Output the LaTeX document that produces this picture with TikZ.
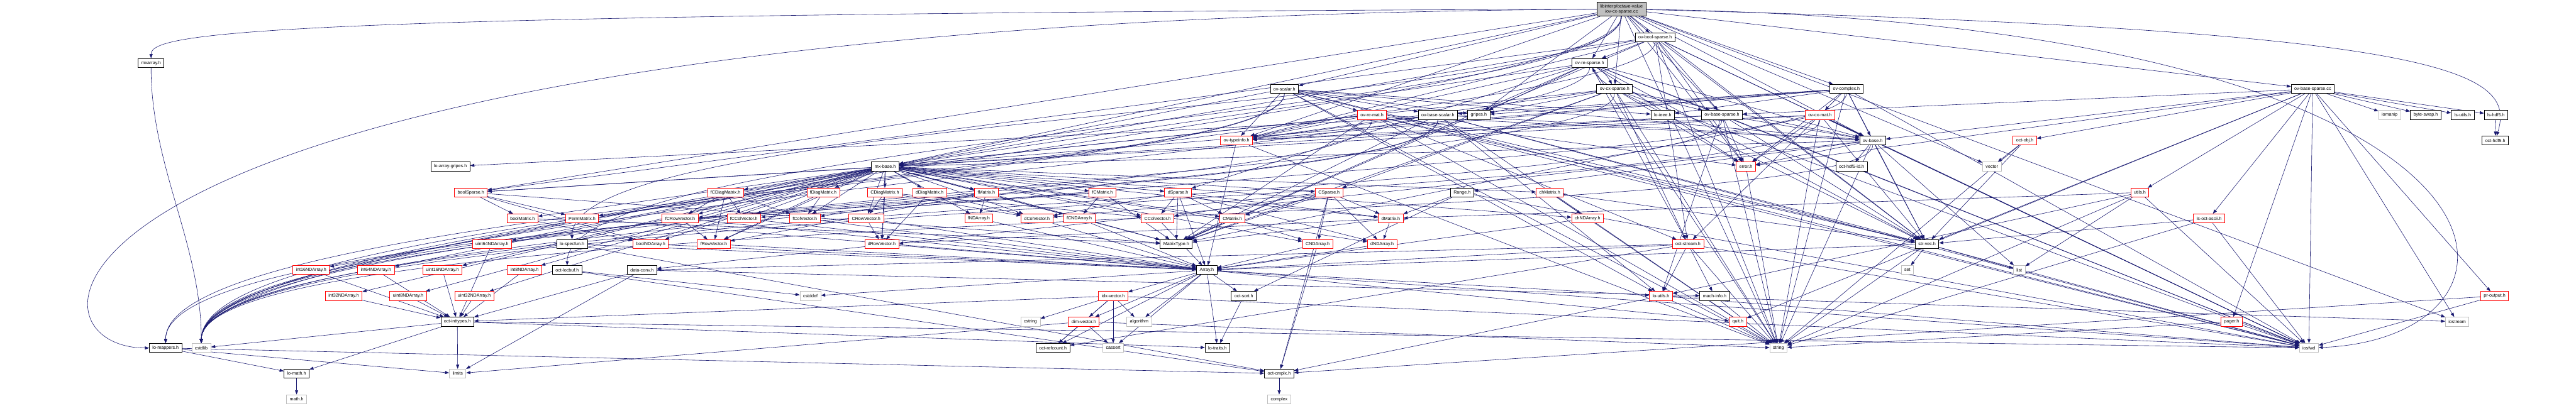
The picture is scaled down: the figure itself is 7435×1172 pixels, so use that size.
\documentclass[tikz,border=0pt]{standalone}
\usepackage{fontspec}
\setmainfont{Liberation Sans}
\usetikzlibrary{arrows.meta}
\definecolor{edgeblue}{HTML}{191970}
\definecolor{sysgray}{HTML}{BFBFBF}
\definecolor{rootfill}{HTML}{BFBFBF}
\definecolor{cutred}{HTML}{FF0000}
\pgfdeclarelayer{edges}
\pgfsetlayers{edges,main}

\begin{document}
\begin{tikzpicture}[x=1pt,y=-1pt,
    hdr/.style={draw=black,line width=1.5pt,fill=white,font=\fontsize{13}{15}\selectfont,
      inner xsep=9pt,inner ysep=0pt,minimum height=26pt},
    cut/.style={hdr,draw=cutred},
    sys/.style={hdr,draw=sysgray},
    rootbox/.style={hdr,fill=rootfill,align=center,minimum height=41pt},
    dep/.style={-{Triangle[length=12pt,width=9pt]},draw=edgeblue,line width=1.1pt}]
  \useasboundingbox (0,0) rectangle (7435,1172);

  % layer 0-3
  \node[rootbox] (root) at (4680,26) {libinterp/octave-value\\/ov-cx-sparse.cc};
  \node[hdr] (ovboolsp) at (4777,108) {ov-bool-sparse.h};
  \node[hdr] (mxarray) at (436,182) {mxarray.h};
  \node[hdr] (ovresp) at (4588,182) {ov-re-sparse.h};
  \node[hdr] (ovscalar) at (3707,257) {ov-scalar.h};
  \node[hdr] (ovcxsp) at (4660,257) {ov-cx-sparse.h};
  \node[hdr] (ovcomplex) at (5329,257) {ov-complex.h};
  \node[hdr] (ovbasespcc) at (6675,257) {ov-base-sparse.cc};

  % layer 4-5
  \node[cut] (ovremat) at (3960,332) {ov-re-mat.h};
  \node[hdr] (ovbasescalar) at (4150,332) {ov-base-scalar.h};
  \node[hdr] (gripes) at (4268,332) {gripes.h};
  \node[hdr] (loieee) at (4799,332) {lo-ieee.h};
  \node[hdr] (ovbasesp) at (4970,332) {ov-base-sparse.h};
  \node[cut] (ovcxmat) at (5253,332) {ov-cx-mat.h};
  \node[sys] (iomanip) at (6897,332) {iomanip};
  \node[hdr] (byteswap) at (7001,332) {byte-swap.h};
  \node[hdr] (lsutils) at (7108,332) {ls-utils.h};
  \node[hdr] (lshdf5) at (7204,332) {ls-hdf5.h};
  \node[cut] (ovtypeinfo) at (3569,406) {ov-typeinfo.h};
  \node[hdr] (ovbase) at (5405,406) {ov-base.h};
  \node[cut] (octobj) at (5844,406) {oct-obj.h};
  \node[hdr] (octhdf5) at (7202,406) {oct-hdf5.h};

  % layer 6-7
  \node[hdr] (loarraygripes) at (1300,481) {lo-array-gripes.h};
  \node[hdr] (mxbase) at (2555,481) {mx-base.h};
  \node[cut] (errorh) at (5039,481) {error.h};
  \node[hdr] (octhdf5id) at (5344,481) {oct-hdf5-id.h};
  \node[sys] (vector) at (5749,481) {vector};
  \node[cut] (boolsparse) at (1359,556) {boolSparse.h};
  \node[cut] (fcdiag) at (2094,556) {fCDiagMatrix.h};
  \node[cut] (fdiag) at (2376,556) {fDiagMatrix.h};
  \node[cut] (cdiag) at (2554,556) {CDiagMatrix.h};
  \node[cut] (ddiag) at (2683,556) {dDiagMatrix.h};
  \node[cut] (fmatrix) at (2847,556) {fMatrix.h};
  \node[cut] (fcmatrix) at (3182,556) {fCMatrix.h};
  \node[cut] (dsparse) at (3400,556) {dSparse.h};
  \node[cut] (csparse) at (3836,556) {CSparse.h};
  \node[hdr] (range) at (4220,556) {Range.h};
  \node[cut] (chmatrix) at (4473,556) {chMatrix.h};
  \node[cut] (utils) at (6176,556) {utils.h};

  % layer 8-9
  \node[cut] (boolmatrix) at (1508,631) {boolMatrix.h};
  \node[cut] (permmatrix) at (1680,631) {PermMatrix.h};
  \node[cut] (fcrowvec) at (1963,631) {fCRowVector.h};
  \node[cut] (fccolvec) at (2147,631) {fCColVector.h};
  \node[cut] (fcolvec) at (2323,631) {fColVector.h};
  \node[cut] (crowvec) at (2500,631) {CRowVector.h};
  \node[cut] (fndarray) at (2825,631) {fNDArray.h};
  \node[cut] (dcolvec) at (2993,631) {dColVector.h};
  \node[cut] (fcndarray) at (3115,631) {fCNDArray.h};
  \node[cut] (ccolvec) at (3341,631) {CColVector.h};
  \node[cut] (cmatrix) at (3557,631) {CMatrix.h};
  \node[cut] (dmatrix) at (4014,631) {dMatrix.h};
  \node[cut] (chndarray) at (4582,631) {chNDArray.h};
  \node[cut] (lsoctascii) at (6376,631) {ls-oct-ascii.h};
  \node[cut] (uint64nd) at (1420,705) {uint64NDArray.h};
  \node[hdr] (lospecfun) at (1651,705) {lo-specfun.h};
  \node[cut] (boolnd) at (1878,705) {boolNDArray.h};
  \node[cut] (frowvec) at (2060,705) {fRowVector.h};
  \node[cut] (drowvec) at (2545,705) {dRowVector.h};
  \node[hdr] (matrixtype) at (3395,705) {MatrixType.h};
  \node[cut] (cndarray) at (3803,705) {CNDArray.h};
  \node[cut] (dndarray) at (3989,705) {dNDArray.h};
  \node[cut] (octstream) at (4872,705) {oct-stream.h};
  \node[hdr] (strvec) at (5562,705) {str-vec.h};

  % layer 10-11
  \node[cut] (int16nd) at (898,780) {int16NDArray.h};
  \node[cut] (int64nd) at (1085,780) {int64NDArray.h};
  \node[cut] (uint16nd) at (1277,780) {uint16NDArray.h};
  \node[cut] (int8nd) at (1514,780) {int8NDArray.h};
  \node[hdr] (octlocbuf) at (1637,780) {oct-locbuf.h};
  \node[hdr] (dataconv) at (1853,780) {data-conv.h};
  \node[hdr] (array) at (3483,780) {Array.h};
  \node[sys] (set) at (5505,780) {set};
  \node[sys] (list) at (5828,780) {list};
  \node[cut] (int32nd) at (992,855) {int32NDArray.h};
  \node[cut] (uint8nd) at (1178,855) {uint8NDArray.h};
  \node[cut] (uint32nd) at (1369,855) {uint32NDArray.h};
  \node[sys] (cstddef) at (2339,855) {cstddef};
  \node[cut] (idxvector) at (3213,855) {idx-vector.h};
  \node[hdr] (octsort) at (3590,855) {oct-sort.h};
  \node[cut] (loutils) at (4794,855) {lo-utils.h};
  \node[hdr] (machinfo) at (4949,855) {mach-info.h};
  \node[cut] (proutput) at (7200,855) {pr-output.h};

  % layer 12-15
  \node[hdr] (octinttypes) at (1320,929) {oct-inttypes.h};
  \node[sys] (cstring) at (2974,929) {cstring};
  \node[cut] (dimvector) at (3128,929) {dim-vector.h};
  \node[sys] (algorithm) at (3288,929) {algorithm};
  \node[cut] (quit) at (5016,929) {quit.h};
  \node[cut] (pager) at (6441,929) {pager.h};
  \node[sys] (iostream) at (7092,929) {iostream};
  \node[hdr] (lomappers) at (478,1005) {lo-mappers.h};
  \node[sys] (cstdlib) at (581,1005) {cstdlib};
  \node[hdr] (octrefcount) at (3039,1005) {oct-refcount.h};
  \node[sys] (cassert) at (3213,1005) {cassert};
  \node[hdr] (lotraits) at (3514,1005) {lo-traits.h};
  \node[sys] (string) at (5133,1005) {string};
  \node[sys] (iosfwd) at (6664,1005) {iosfwd};
  \node[hdr] (lomath) at (856,1079) {lo-math.h};
  \node[sys] (limits) at (1321,1079) {limits};
  \node[hdr] (octcmplx) at (3692,1079) {oct-cmplx.h};
  \node[sys] (mathh) at (856,1153) {math.h};
  \node[sys] (complex) at (3692,1153) {complex};

  \begin{pgfonlayer}{edges}
  % root file
  \foreach \tgt in {ovboolsp,ovresp,ovcxsp,ovbasesp,ovbasespcc,ovscalar,ovcomplex,ovbase,gripes,
      iostream,vector,string,strvec,errorh,ovtypeinfo,boolsparse,mxbase}
    \draw[dep] (root) -- (\tgt);
  \foreach \tgt in {lospecfun,octlocbuf,cstdlib}
    \draw[dep] (root) .. controls +(0,300) and +(0,-380) .. (\tgt);
  \draw[dep] (root) .. controls +(-3900,15) and +(0,-90) .. (mxarray);
  \draw[dep] (root) .. controls +(-4660,30) and +(-470,0) .. (lomappers);
  \draw[dep] (root) .. controls +(2700,40) and +(740,-30) .. (iosfwd);
  \draw[dep] (root) .. controls +(2400,60) and +(60,-200) .. (octhdf5);

  % octave-value headers
  \foreach \tgt in {ovresp,ovbasesp,boolsparse,mxbase,strvec,errorh,octstream,ovbase,ovtypeinfo,
      iosfwd,string,matrixtype}
    \draw[dep] (ovboolsp) -- (\tgt);
  \foreach \tgt in {ovbasesp,dsparse,matrixtype,mxbase,strvec,gripes,errorh,octstream,ovbase,
      ovtypeinfo,iosfwd,string}
    \draw[dep] (ovresp) -- (\tgt);
  \foreach \tgt in {ovbasesp,csparse,matrixtype,mxbase,strvec,gripes,errorh,octstream,ovbase,
      ovtypeinfo,iosfwd,string}
    \draw[dep] (ovcxsp) -- (\tgt);
  \draw[dep] (ovresp) to[bend left=14] (ovcxsp);
  \draw[dep] (ovcxsp) to[bend left=14] (ovresp);
  \foreach \tgt in {ovremat,ovbasescalar,gripes,loieee,loutils,mxbase,strvec,ovbase,
      ovtypeinfo,iosfwd,string}
    \draw[dep] (ovscalar) -- (\tgt);
  \foreach \tgt in {ovcxmat,ovbasescalar,gripes,loieee,mxbase,strvec,errorh,ovbase,ovtypeinfo,
      iosfwd,string}
    \draw[dep] (ovcomplex) -- (\tgt);
  \foreach \tgt in {ovbasesp,iomanip,byteswap,lsutils,lshdf5,lsoctascii,proutput,pager,utils,quit,
      octobj,ovbase,iostream,iosfwd,errorh,strvec}
    \draw[dep] (ovbasespcc) -- (\tgt);
  \foreach \src in {ovremat,ovcxmat}
    \foreach \tgt in {mxbase,strvec,errorh,octstream,ovbase,ovtypeinfo,matrixtype,iosfwd,string}
      \draw[dep] (\src) -- (\tgt);
  \foreach \tgt in {loutils,strvec,matrixtype,ovbase,ovtypeinfo,iosfwd,string}
    \draw[dep] (ovbasescalar) -- (\tgt);
  \foreach \tgt in {ovbase,ovtypeinfo,boolsparse,strvec,errorh,loutils,iosfwd,string}
    \draw[dep] (ovbasesp) -- (\tgt);
  \foreach \tgt in {iosfwd,list,string,range,dataconv,mxbase,strvec,errorh,octhdf5id}
    \draw[dep] (ovbase) -- (\tgt);
  % long swoops down to the left-hand system headers
  \foreach \src in {ovboolsp,ovresp,ovcxsp,ovscalar,ovcomplex,ovremat,ovcxmat,ovbasescalar,ovbasesp,ovbase}
    \draw[dep] (\src) .. controls +(0,260) and +(0,-420) .. (cstdlib);
  \foreach \src in {ovscalar,ovbasescalar}
    \draw[dep] (\src) .. controls +(0,260) and +(0,-420) .. (lomappers);
  \draw[dep](gripes)--(loarraygripes); \draw[dep](lshdf5)--(octhdf5);
  \draw[dep](ovtypeinfo)--(array); \draw[dep](ovtypeinfo)--(string);
  \draw[dep](octobj)--(vector); \draw[dep](octobj)--(string); \draw[dep](octobj)--(strvec);
  \draw[dep](errorh)--(string);
  \draw[dep](mxarray) .. controls +(0,300) and +(0,-300) .. (cstdlib);

  % liboctave matrix headers
  \foreach \tgt in {matrixtype,boolmatrix,chmatrix,dmatrix,cmatrix,fmatrix,fcmatrix,dcolvec,ccolvec,
      fcolvec,fccolvec,drowvec,crowvec,frowvec,fcrowvec,ddiag,cdiag,fdiag,fcdiag,permmatrix,boolnd,
      chndarray,dndarray,cndarray,fndarray,fcndarray,int8nd,int16nd,int32nd,int64nd,uint8nd,uint16nd,
      uint32nd,uint64nd,boolsparse,dsparse,csparse}
    \draw[dep] (mxbase) -- (\tgt);
  \foreach \tgt in {boolmatrix,boolnd,permmatrix,matrixtype} \draw[dep] (boolsparse) -- (\tgt);
  \foreach \tgt in {fcrowvec,fccolvec,frowvec,fcolvec} \draw[dep] (fcdiag) -- (\tgt);
  \foreach \tgt in {frowvec,fcolvec} \draw[dep] (fdiag) -- (\tgt);
  \foreach \tgt in {crowvec,ccolvec,drowvec,dcolvec} \draw[dep] (cdiag) -- (\tgt);
  \foreach \tgt in {drowvec,dcolvec} \draw[dep] (ddiag) -- (\tgt);
  \foreach \tgt in {fndarray,frowvec,fcolvec,matrixtype} \draw[dep] (fmatrix) -- (\tgt);
  \foreach \tgt in {fcndarray,fcrowvec,fccolvec,matrixtype} \draw[dep] (fcmatrix) -- (\tgt);
  \foreach \tgt in {dmatrix,dndarray,cmatrix,dcolvec,ccolvec,matrixtype,array} \draw[dep] (dsparse) -- (\tgt);
  \foreach \tgt in {dmatrix,dndarray,cndarray,dcolvec,ccolvec,octcmplx,matrixtype,cmatrix}
    \draw[dep] (csparse) -- (\tgt);
  \foreach \tgt in {dmatrix,octsort,iosfwd} \draw[dep] (range) -- (\tgt);
  \foreach \tgt in {chndarray,string,strvec} \draw[dep] (chmatrix) -- (\tgt);
  \foreach \tgt in {dmatrix,loutils,iosfwd,string,list} \draw[dep] (utils) -- (\tgt);
  \foreach \tgt in {string,strvec,iosfwd} \draw[dep] (lsoctascii) -- (\tgt);
  \draw[dep](boolmatrix)--(boolnd); \draw[dep](boolmatrix)--(matrixtype);
  \draw[dep](fcrowvec)--(frowvec); \draw[dep](crowvec)--(drowvec);
  \draw[dep](cmatrix)--(matrixtype); \draw[dep](cmatrix)--(cndarray);
  \draw[dep](dmatrix)--(dndarray); \draw[dep](dmatrix)--(drowvec); \draw[dep](dmatrix)--(matrixtype);
  \foreach \src in {permmatrix,fcrowvec,fccolvec,fcolvec,crowvec,fndarray,dcolvec,fcndarray,ccolvec,
      chndarray,boolnd,frowvec,drowvec,cndarray,dndarray,lospecfun}
    \draw[dep] (\src) -- (array);
  \foreach \src in {int8nd,int16nd,int32nd,int64nd,uint8nd,uint16nd,uint32nd,uint64nd}
    \draw[dep] (\src) -- (octinttypes);
  \draw[dep](lospecfun)--(octcmplx); \draw[dep](cndarray)--(octcmplx);

  % low level headers
  \foreach \tgt in {iosfwd,string,array,dataconv,loutils,machinfo,octrefcount} \draw[dep] (octstream) -- (\tgt);
  \foreach \tgt in {iosfwd,list,set,string,array} \draw[dep] (strvec) -- (\tgt);
  \foreach \tgt in {cassert,cstddef,algorithm,iosfwd,idxvector,lotraits,loutils,octsort,quit,
      octrefcount,dimvector}
    \draw[dep] (array) -- (\tgt);
  \foreach \tgt in {cassert,cstring,algorithm,iosfwd,dimvector,octinttypes,octrefcount}
    \draw[dep] (idxvector) -- (\tgt);
  \foreach \tgt in {limits,cstdlib,iosfwd,lomath,lotraits} \draw[dep] (octinttypes) -- (\tgt);
  \foreach \tgt in {cassert,limits,string,octrefcount} \draw[dep] (dimvector) -- (\tgt);
  \foreach \tgt in {octcmplx,iosfwd,string,iostream} \draw[dep] (loutils) -- (\tgt);
  \foreach \tgt in {limits,lomath,octcmplx} \draw[dep] (lomappers) -- (\tgt);
  \draw[dep](octlocbuf)--(cstddef); \draw[dep](octlocbuf)--(octcmplx);
  \draw[dep](dataconv)--(limits); \draw[dep](dataconv)--(machinfo); \draw[dep](dataconv)--(octinttypes);
  \draw[dep](octsort)--(lotraits); \draw[dep](machinfo)--(string);
  \draw[dep](proutput)--(iosfwd); \draw[dep](proutput)--(octcmplx);
  \draw[dep](pager)--(iosfwd); \draw[dep](pager)--(string);
  \draw[dep](lomath)--(mathh); \draw[dep](octcmplx)--(complex);
  \end{pgfonlayer}
\end{tikzpicture}
\end{document}
